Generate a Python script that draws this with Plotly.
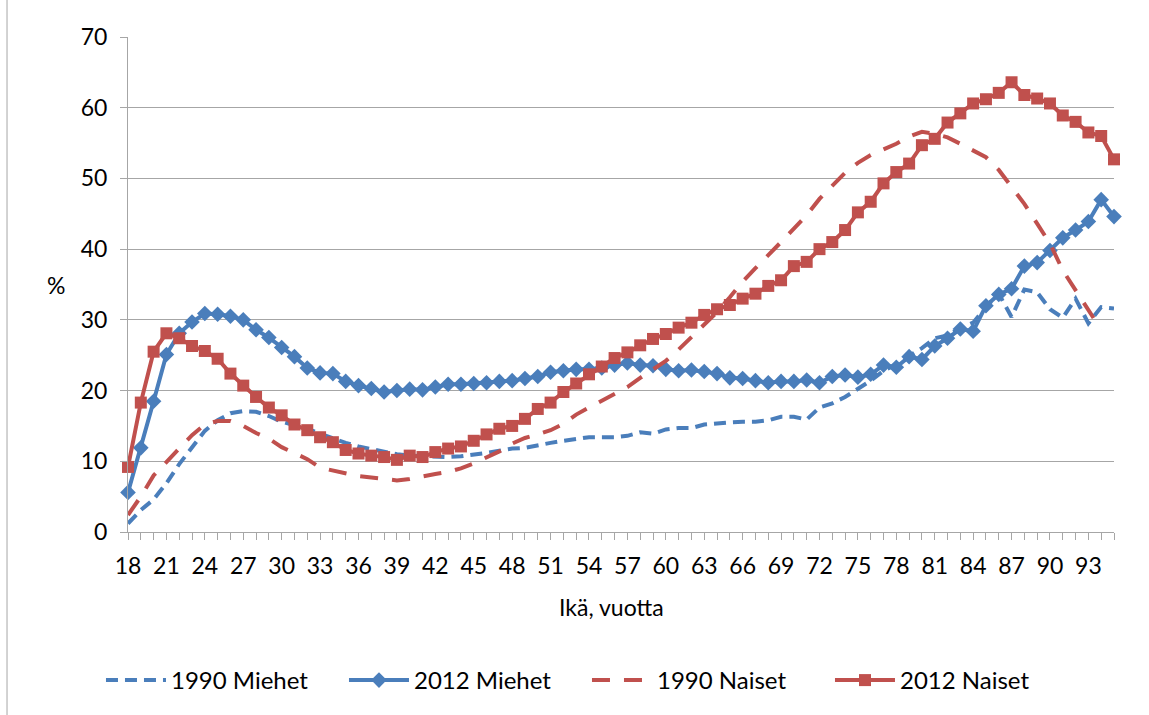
"""
Toimeentulotuen / osuus ikäryhmittäin: 1990 vs 2012, miehet ja naiset.
Excel-tyylinen viivakaavio Plotlylla.
"""

import plotly.graph_objects as go

# ─────────────────────────────────────────
# Data (luettu kuvasta)
# ─────────────────────────────────────────

AGES = list(range(18, 96))
AGES_1990_N = list(range(18, 95))

MIEHET_1990 = [
    1.2, 3.1, 4.6, 6.9, 9.6, 12.0, 14.3, 15.8, 16.8, 17.1,
    17.0, 16.4, 15.6, 15.1, 14.6, 13.9, 13.2, 12.6, 12.1, 11.7,
    11.3, 11.0, 10.8, 10.7, 10.6, 10.6, 10.7, 10.9, 11.2, 11.5,
    11.8, 11.9, 12.3, 12.6, 12.9, 13.1, 13.4, 13.4, 13.4, 13.6,
    14.1, 13.9, 14.5, 14.7, 14.7, 15.2, 15.4, 15.5, 15.6, 15.6,
    15.8, 16.3, 16.3, 15.9, 17.6, 18.2, 19.1, 20.2, 21.4, 22.8,
    23.7, 24.9, 26.0, 27.4, 27.8, 28.8, 29.6, 31.8, 33.7, 30.4,
    34.3, 33.9, 31.5, 30.3, 33.0, 29.5, 31.8, 31.6,
]

MIEHET_2012 = [
    5.6, 11.9, 18.5, 25.1, 28.1, 29.7, 30.9, 30.8, 30.5, 30.0,
    28.6, 27.5, 26.1, 24.8, 23.2, 22.5, 22.4, 21.3, 20.7, 20.3,
    19.8, 20.0, 20.2, 20.1, 20.5, 20.9, 20.9, 21.0, 21.1, 21.3,
    21.4, 21.7, 22.0, 22.6, 22.8, 23.0, 23.0, 23.2, 23.6, 23.9,
    23.6, 23.5, 23.0, 22.8, 22.9, 22.7, 22.4, 21.8, 21.7, 21.4,
    21.1, 21.3, 21.3, 21.5, 21.1, 22.0, 22.2, 21.9, 22.3, 23.6,
    23.3, 24.8, 24.4, 26.3, 27.4, 28.7, 28.4, 32.0, 33.6, 34.4,
    37.6, 38.1, 39.8, 41.6, 42.7, 43.9, 47.0, 44.6,
]

NAISET_1990 = [
    2.4, 5.0, 8.0, 9.9, 12.0, 13.7, 15.2, 15.7, 15.7, 15.0,
    14.0, 13.2, 12.0, 11.1, 10.3, 9.1, 8.7, 8.3, 7.9, 7.7,
    7.5, 7.3, 7.5, 7.9, 8.2, 8.5, 9.0, 9.7, 10.5, 11.4,
    12.5, 13.3, 13.8, 14.4, 15.3, 16.6, 17.6, 18.6, 19.6, 20.5,
    21.8, 23.0, 24.2, 25.8, 27.6, 29.3, 31.1, 33.2, 35.4, 37.3,
    39.1, 41.0, 42.9, 44.8, 47.1, 49.0, 50.8, 52.2, 53.3, 54.1,
    54.9, 55.9, 56.6, 56.3, 55.8, 54.9, 54.0, 53.0, 51.2, 48.8,
    46.4, 43.6, 40.8, 37.0, 34.2, 31.4, 28.6,
]

NAISET_2012 = [
    9.2, 18.3, 25.5, 28.1, 27.4, 26.3, 25.6, 24.5, 22.4, 20.7,
    19.1, 17.6, 16.5, 15.2, 14.4, 13.4, 12.7, 11.6, 11.1, 10.8,
    10.6, 10.2, 10.8, 10.6, 11.3, 11.8, 12.1, 12.9, 13.8, 14.6,
    15.0, 16.0, 17.4, 18.3, 19.8, 21.0, 22.3, 23.4, 24.6, 25.4,
    26.4, 27.3, 28.0, 28.9, 29.6, 30.7, 31.5, 32.1, 33.0, 33.7,
    34.8, 35.6, 37.6, 38.2, 40.0, 41.0, 42.7, 45.2, 46.7, 49.3,
    50.9, 52.1, 54.7, 55.6, 57.9, 59.2, 60.6, 61.2, 62.1, 63.6,
    61.8, 61.3, 60.6, 58.9, 58.0, 56.5, 56.0, 52.7,
]

# ─────────────────────────────────────────
# Tyyli
# ─────────────────────────────────────────

PALETTE = {
    "miehet": "#4A7EBB",
    "naiset": "#C0504D",
    "grid":   "#A6A6A6",
    "text":   "#000000",
}

FONT = dict(family="Lato, sans-serif", size=23, color=PALETTE["text"])

fig = go.Figure()

fig.add_trace(go.Scatter(
    x=AGES, y=MIEHET_1990, name="1990 Miehet", mode="lines",
    line=dict(color=PALETTE["miehet"], width=4, dash="12px,7px"),
    cliponaxis=False,
))
fig.add_trace(go.Scatter(
    x=AGES, y=MIEHET_2012, name="2012 Miehet", mode="lines+markers",
    line=dict(color=PALETTE["miehet"], width=4),
    marker=dict(symbol="diamond", size=12, color=PALETTE["miehet"]),
    cliponaxis=False,
))
fig.add_trace(go.Scatter(
    x=AGES_1990_N, y=NAISET_1990, name="1990 Naiset", mode="lines",
    line=dict(color=PALETTE["naiset"], width=4, dash="18px,14px"),
    cliponaxis=False,
))
fig.add_trace(go.Scatter(
    x=AGES, y=NAISET_2012, name="2012 Naiset", mode="lines+markers",
    line=dict(color=PALETTE["naiset"], width=4),
    marker=dict(symbol="square", size=12, color=PALETTE["naiset"]),
    cliponaxis=False,
))

fig.update_xaxes(
    range=[18, 95], tick0=18, dtick=3,
    showgrid=False, zeroline=False,
    showline=True, linecolor=PALETTE["grid"], linewidth=1,
    ticks="outside", ticklen=7, tickcolor=PALETTE["grid"],
    ticklabelstandoff=6,
    minor=dict(dtick=1, tick0=18, ticks="outside", ticklen=7,
               tickcolor=PALETTE["grid"], showgrid=False),
)
fig.update_yaxes(
    range=[0, 70], dtick=10,
    showgrid=True, gridcolor=PALETTE["grid"], gridwidth=1,
    zeroline=False,
    showline=True, linecolor=PALETTE["grid"], linewidth=1,
    ticks="outside", ticklen=7, tickcolor=PALETTE["grid"],
    ticklabelstandoff=8,
)

fig.update_layout(
    width=1149, height=715,
    font=FONT,
    plot_bgcolor="white", paper_bgcolor="white",
    margin=dict(l=128, r=35, t=37, b=183),
    showlegend=True,
    legend=dict(
        orientation="h", x=0.4655, xanchor="center",
        y=-0.30, yanchor="middle",
        itemwidth=60, entrywidth=168,
        font=dict(size=24),
    ),
    annotations=[
        dict(text="%", xref="paper", yref="paper", x=-0.073, y=0.50,
             showarrow=False, xanchor="center", yanchor="middle"),
        dict(text="Ikä, vuotta", xref="paper", yref="paper", x=0.49, y=-0.152,
             showarrow=False, xanchor="center", yanchor="middle"),
    ],
    shapes=[
        dict(type="line", xref="paper", yref="paper",
             x0=-0.1227, x1=-0.1227, y0=-0.40, y1=1.10,
             line=dict(color=PALETTE["grid"], width=1)),
    ],
)

# selaimen oletusmarginaali pois, jotta kuva alkaa kohdasta (0, 0)
fig.write_html("out.html", config={"displayModeBar": False},
               post_script="document.body.style.margin='0';")
